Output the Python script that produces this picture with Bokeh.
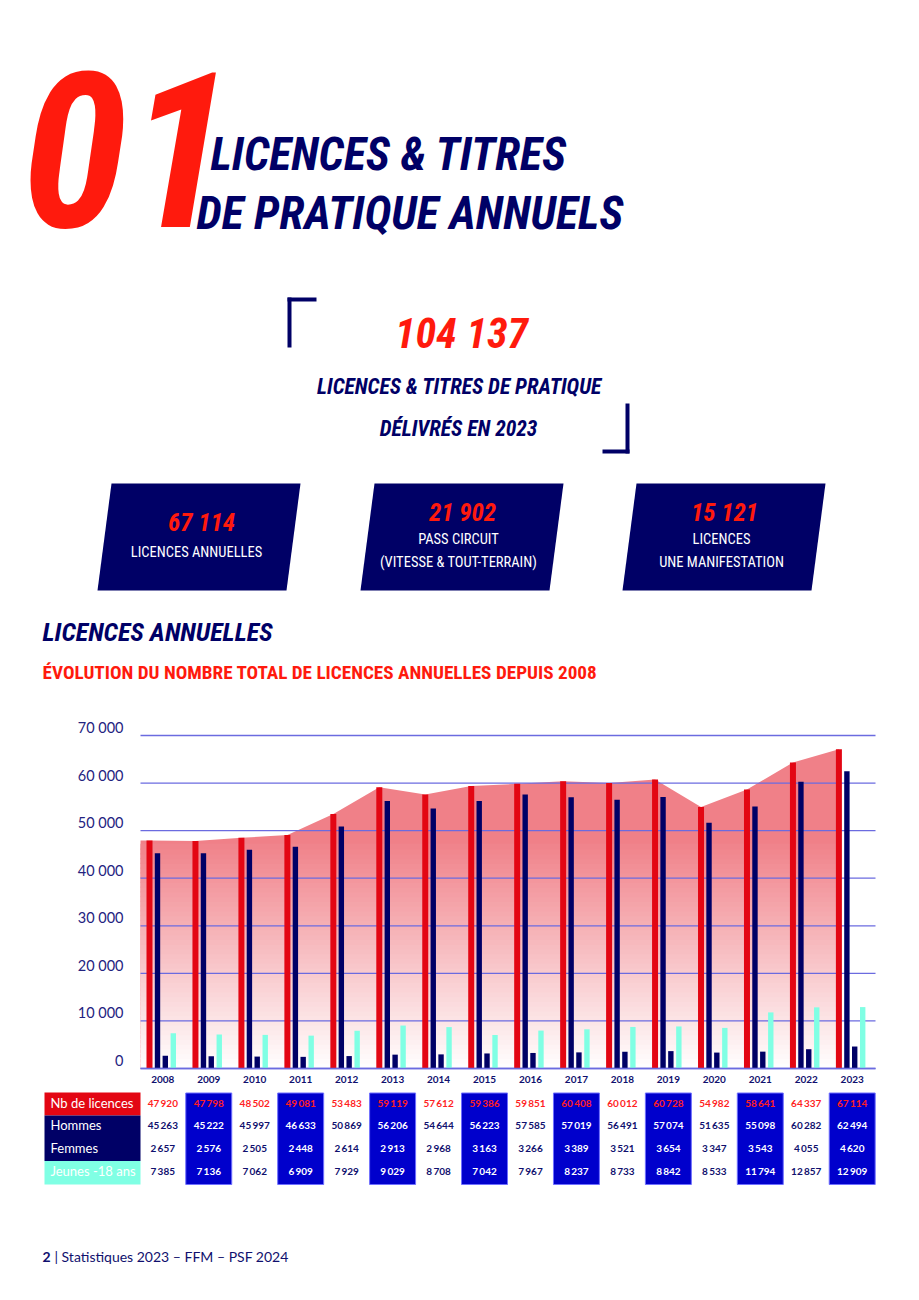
import numpy as np
from bokeh.plotting import figure
from bokeh.models import Range1d
from bokeh.core.properties import value
from bokeh.embed import file_html
from bokeh.resources import INLINE

# ---------------- data ----------------
years = list(range(2008, 2024))
nb_licences = [47920, 47798, 48502, 49081, 53483, 59119, 57612, 59386,
               59851, 60408, 60012, 60728, 54982, 58641, 64337, 67114]
hommes = [45263, 45222, 45997, 46633, 50869, 56206, 54644, 56223,
          57585, 57019, 56491, 57074, 51635, 55098, 60282, 62494]
femmes = [2657, 2576, 2505, 2448, 2614, 2913, 2968, 3163,
          3266, 3389, 3521, 3654, 3347, 3543, 4055, 4620]
jeunes = [7385, 7136, 7062, 6909, 7929, 9029, 8708, 7042,
          7967, 8237, 8733, 8842, 8533, 11794, 12857, 12909]
y_ticks = [0, 10000, 20000, 30000, 40000, 50000, 60000, 70000]
y_tick_labels = ["0", "10 000", "20 000", "30 000", "40 000", "50 000", "60 000", "70 000"]
row_labels = ["Nb de licences", "Hommes", "Femmes", "Jeunes -18 ans"]
total_titres = "104 137"
kpi_values = ["67 114", "21 902", "15 121"]

# ---------------- styles ----------------
RED = "#e30613"
RED_T = "#ff1a0d"
NAVY = "#000066"
BLUE = "#0000cc"
CYAN = "#80ffe4"
GRID = "#6b6be0"
PINK = (240, 128, 136)
FC = value("Roboto Condensed")
FS = value("Lato")

W, H = 903, 1284
p = figure(width=W, height=H, x_range=Range1d(0, W), y_range=Range1d(H, 0),
           output_backend="svg", toolbar_location=None, min_border=0,
           x_axis_location=None, y_axis_location=None)
p.grid.visible = False
p.outline_line_color = None
p.background_fill_color = "white"

# chart scales
X0_PX, STEP_PX = 162.3, 45.96
Y0_PX, K = 1068.0, 333.0 / 70000
p.extra_x_ranges = {"yr": Range1d(2008 - X0_PX / STEP_PX, 2008 + (W - X0_PX) / STEP_PX)}
p.extra_y_ranges = {"val": Range1d(-(H - Y0_PX) / K, Y0_PX / K)}
R = dict(x_range_name="yr", y_range_name="val")
MID = dict(text_baseline="middle")

# ---------------- header ----------------
p.text(x=[21], y=[149], text=["01"], text_font=FC, text_font_style="bold italic",
       text_font_size="216px", text_color=RED_T, **MID)
p.text(x=[210, 196], y=[153, 212], text=["LICENCES & TITRES", "DE PRATIQUE ANNUELS"],
       text_font=FC, text_font_style="bold italic", text_font_size="46px",
       text_color=NAVY, **MID)

# brackets
p.quad(left=[287, 287, 625, 602], right=[316, 291, 629, 629],
       top=[297, 297, 403, 449], bottom=[301, 347, 453, 453],
       fill_color=NAVY, line_color=None)
p.text(x=[461], y=[333], text=[total_titres], text_font=FC, text_font_style="bold italic",
       text_font_size="42px", text_color=RED_T, text_align="center", **MID)
p.text(x=[459, 458], y=[386, 428], text=["LICENCES & TITRES DE PRATIQUE", "DÉLIVRÉS EN 2023"],
       text_font=FC, text_font_style="bold italic", text_font_size="21.5px",
       text_color=NAVY, text_align="center", **MID)

# KPI boxes
for bl in (97, 360, 622):
    p.patch(x=[bl, bl + 189, bl + 203, bl + 14], y=[590, 590, 483, 483],
            fill_color=NAVY, line_color=None)
p.text(x=[201, 462, 724], y=[522, 512, 512], text=kpi_values, text_font=FC,
       text_font_style="bold italic", text_font_size="25px", text_color=RED_T,
       text_align="center", **MID)
p.text(x=[196, 458, 458, 721, 721], y=[552, 539, 562, 539, 562],
       text=["LICENCES ANNUELLES", "PASS CIRCUIT", "(VITESSE & TOUT-TERRAIN)",
             "LICENCES", "UNE MANIFESTATION"],
       text_font=FC, text_font_size="14.5px", text_color="white",
       text_align="center", **MID)

p.text(x=[42], y=[631], text=["LICENCES ANNUELLES"], text_font=FC,
       text_font_style="bold italic", text_font_size="26px", text_color=NAVY, **MID)
p.text(x=[42], y=[672], text=["ÉVOLUTION DU NOMBRE TOTAL DE LICENCES ANNUELLES DEPUIS 2008"],
       text_font=FC, text_font_style="bold", text_font_size="19.2px", text_color=RED_T, **MID)

# ---------------- chart ----------------
yrs = np.array(years, dtype=float)
plot_left = 2008 - (X0_PX - 140) / STEP_PX
plot_right = 2008 + (875 - X0_PX) / STEP_PX
red_x = yrs - 13.3 / STEP_PX
area_x = [plot_left] + list(red_x)
area_y = [nb_licences[0]] + nb_licences
p.varea(x=area_x, y1=[0] * len(area_x), y2=area_y, fill_color="#%02x%02x%02x" % PINK, **R)

edges = np.linspace(0, 47000, 48)
mids = (edges[:-1] + edges[1:]) / 2
cols = []
for m in mids:
    t = min(1.0, m / 48000)
    c = [int(round(255 + (pc - 255) * t)) for pc in PINK]
    cols.append("#%02x%02x%02x" % tuple(c))
p.quad(left=plot_left, right=red_x[-1], bottom=edges[:-1], top=edges[1:] + 250,
       fill_color=cols, line_color=None, **R)

p.segment(x0=[plot_left] * len(y_ticks), x1=[plot_right] * len(y_ticks), y0=y_ticks, y1=y_ticks,
          line_color=GRID, line_width=1.3, **R)

p.vbar(x=red_x, top=nb_licences, width=6.0 / STEP_PX, fill_color=RED, line_color=None, **R)
p.vbar(x=yrs - 5.3 / STEP_PX, top=hommes, width=5.4 / STEP_PX, fill_color=NAVY, line_color=None, **R)
p.vbar(x=yrs + 2.5 / STEP_PX, top=femmes, width=5.4 / STEP_PX, fill_color=NAVY, line_color=None, **R)
p.vbar(x=yrs + 10.5 / STEP_PX, top=jeunes, width=5.4 / STEP_PX, fill_color=CYAN, line_color=None, **R)
p.segment(x0=[plot_left], x1=[plot_right], y0=[0], y1=[0], line_color=GRID, line_width=1.6, **R)

p.text(x=[123] * len(y_ticks), y=y_ticks, text=y_tick_labels, text_font=FS,
       text_font_size="14.5px", text_color="#23237f", text_align="right",
       y_offset=-8, y_range_name="val", **MID)
p.text(x=years, y=[1079] * len(years), text=[str(y) for y in years], text_font=FS,
       text_font_style="bold", text_font_size="10px", text_color="#10106e",
       text_align="center", x_range_name="yr", **MID)

# ---------------- table ----------------
p.quad(left=[44, 44, 44], right=[140, 140, 140], top=[1092, 1115, 1160.5],
       bottom=[1115, 1160.5, 1184], fill_color=[RED, NAVY, CYAN], line_color=None)
row_y = [1102, 1124.5, 1147, 1170.5]
p.text(x=[50] * 4, y=row_y, text=row_labels, text_font=FS, text_font_size="13px",
       text_color="white", **MID)

odd = [y for i, y in enumerate(years) if i % 2 == 1]
p.quad(left=[y - 0.5 for y in odd], right=[y + 0.5 for y in odd], top=1092.5, bottom=1184,
       fill_color=BLUE, line_color="#6f6fff", line_width=1, x_range_name="yr")


def fmt(v):
    return f"{v:,}".replace(",", "\u2009")


for r, series in enumerate([nb_licences, hommes, femmes, jeunes]):
    if r == 0:
        colors = ["#ff1f1f"] * len(years)
    else:
        colors = ["white" if i % 2 == 1 else "#10106e" for i in range(len(years))]
    p.text(x=years, y=[row_y[r]] * len(years), text=[fmt(v) for v in series],
           text_font=FS, text_font_style="bold", text_font_size="10px", text_color=colors,
           text_align="center", x_range_name="yr", **MID)

# ---------------- footer ----------------
p.text(x=[42], y=[1256], text=["2"], text_font=FS, text_font_style="bold",
       text_font_size="14px", text_color="#10106e", **MID)
p.text(x=[54], y=[1256], text=["| Statistiques 2023 – FFM – PSF 2024"], text_font=FS,
       text_font_size="14px", text_color="#10106e", **MID)

open("out.html", "w").write(file_html(p, INLINE))
